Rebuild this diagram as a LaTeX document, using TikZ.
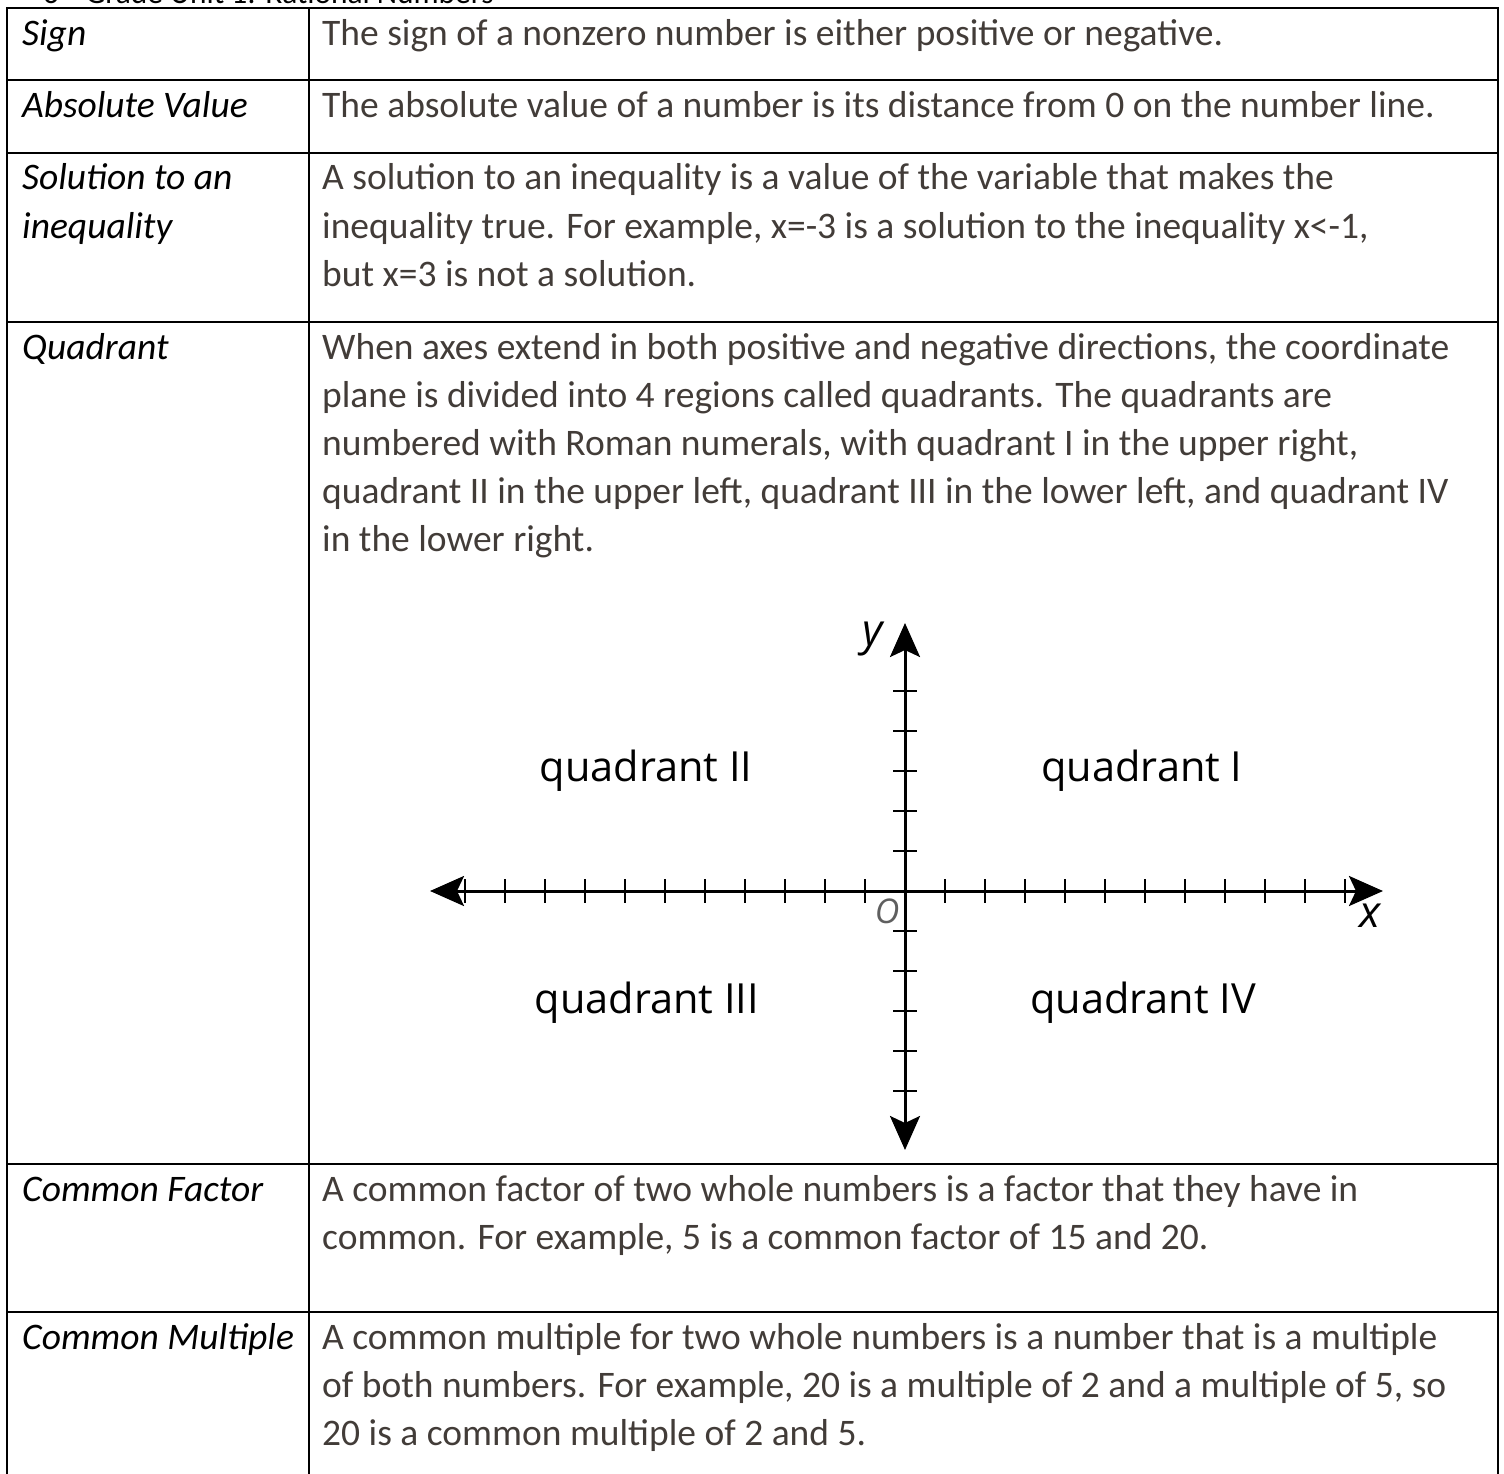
\documentclass[tikz,border=0pt]{standalone}
\usepackage{fontspec}
\usetikzlibrary{arrows.meta}
\newfontfamily\calibri{Carlito}
\newfontfamily\opensans{Open Sans}
\definecolor{deftext}{RGB}{66,60,56}
\definecolor{origingray}{RGB}{95,95,95}

\tikzset{
  term/.style={anchor=base west, inner sep=0pt, font=\calibri\itshape\fontsize{37.5}{48}\selectfont},
  defn/.style={anchor=base west, inner sep=0pt, text=deftext, font=\calibri\fontsize{37.5}{48}\selectfont},
  rule/.style={line width=2.8pt},
  axis/.style={line width=3pt, {Stealth[length=34pt,width=30pt,inset=7pt]}-{Stealth[length=34pt,width=30pt,inset=7pt]}},
  tickmark/.style={line width=1.6pt},
  qlabel/.style={anchor=base, inner sep=0pt, font=\opensans\fontsize{41.5}{48}\selectfont},
  axlabel/.style={anchor=base, inner sep=0pt, font=\opensans\itshape\fontsize{44}{48}\selectfont},
}

\begin{document}
\begin{tikzpicture}[x=1pt,y=-1pt]
  \useasboundingbox (0,0) rectangle (1504,1474);
  % running head, cut by the page edge
  \node[anchor=base west, inner sep=0pt, font=\calibri\fontsize{31.4}{40}\selectfont] (head) at (43,3.5) {6\textsuperscript{th} Grade Unit 1: Rational Numbers};

  % table rules
  \draw[rule] (7,1474) -- (7,8) -- (1498,8) -- (1498,1474);
  \draw[rule] (309,8) -- (309,1474);
  \foreach \y in {80,153,322,1164,1312}
    \draw[rule] (7,\y) -- (1498,\y);

  % terms
  \node[term] (sign) at (22,46) {Sign};
  \node[term] (absval) at (22,118) {Absolute Value};
  \node[term] (sol1) at (22,190) {Solution to an};
  \node[term] (sol2) at (22,238) {inequality};
  \node[term] (quad) at (22,359) {Quadrant};
  \node[term] (cfac) at (22,1201) {Common Factor};
  \node[term] (cmul) at (22,1349) {Common Multiple};

  % definitions
  \node[defn] (signdef) at (322,46) {The sign of a nonzero number is either positive or negative.};
  \node[defn] (absdef) at (322,118) {The absolute value of a number is its distance from 0 on the number line.};
  \foreach \txt [count=\k from 0] in {{A solution to an inequality is a value of the variable that makes the},
      {inequality true. For example, x=-3 is a solution to the inequality x<-1,},
      {but x=3 is not a solution.}}
    \node[defn] (soldef\k) at (322,190+48*\k) {\txt};
  \foreach \txt [count=\k from 0] in {{When axes extend in both positive and negative directions, the coordinate},
      {plane is divided into 4 regions called quadrants. The quadrants are},
      {numbered with Roman numerals, with quadrant I in the upper right,},
      {quadrant II in the upper left, quadrant III in the lower left, and quadrant IV},
      {in the lower right.}}
    \node[defn] (quaddef\k) at (322,359+48*\k) {\txt};
  \foreach \txt [count=\k from 0] in {{A common factor of two whole numbers is a factor that they have in},
      {common. For example, 5 is a common factor of 15 and 20.}}
    \node[defn] (cfacdef\k) at (322,1201+48*\k) {\txt};
  \foreach \txt [count=\k from 0] in {{A common multiple for two whole numbers is a number that is a multiple},
      {of both numbers. For example, 20 is a multiple of 2 and a multiple of 5, so},
      {20 is a common multiple of 2 and 5.}}
    \node[defn] (cmuldef\k) at (322,1349+48*\k) {\txt};

  % coordinate plane
  \coordinate (orig) at (905,891);
  \coordinate (xleft) at (430,891);
  \coordinate (xright) at (1383,891);
  \coordinate (ytop) at (905,623);
  \coordinate (ybot) at (905,1150);
  \foreach \k in {1,...,11} {
    \draw[tickmark] (905+40*\k,879) -- (905+40*\k,903);
    \draw[tickmark] (905-40*\k,879) -- (905-40*\k,903);
  }
  \foreach \k in {1,...,5} {
    \draw[tickmark] (893,891-40*\k) -- (917,891-40*\k);
    \draw[tickmark] (893,891+40*\k) -- (917,891+40*\k);
  }
  \draw[axis] (xleft) -- (xright);
  \draw[axis] (ybot) -- (ytop);
  \node[axlabel] (ylab) at (873,645) {y};
  \node[axlabel] (xlab) at (1370,927) {x};
  \node[anchor=base, inner sep=0pt, text=origingray, font=\opensans\itshape\fontsize{34}{40}\selectfont] (olab) at (887,923) {O};

  \node[qlabel] (q2) at (646,781) {quadrant II};
  \node[qlabel] (q1) at (1142,781) {quadrant I};
  \node[qlabel] (q3) at (647,1013) {quadrant III};
  \node[qlabel] (q4) at (1143,1013) {quadrant IV};
\end{tikzpicture}
\end{document}
